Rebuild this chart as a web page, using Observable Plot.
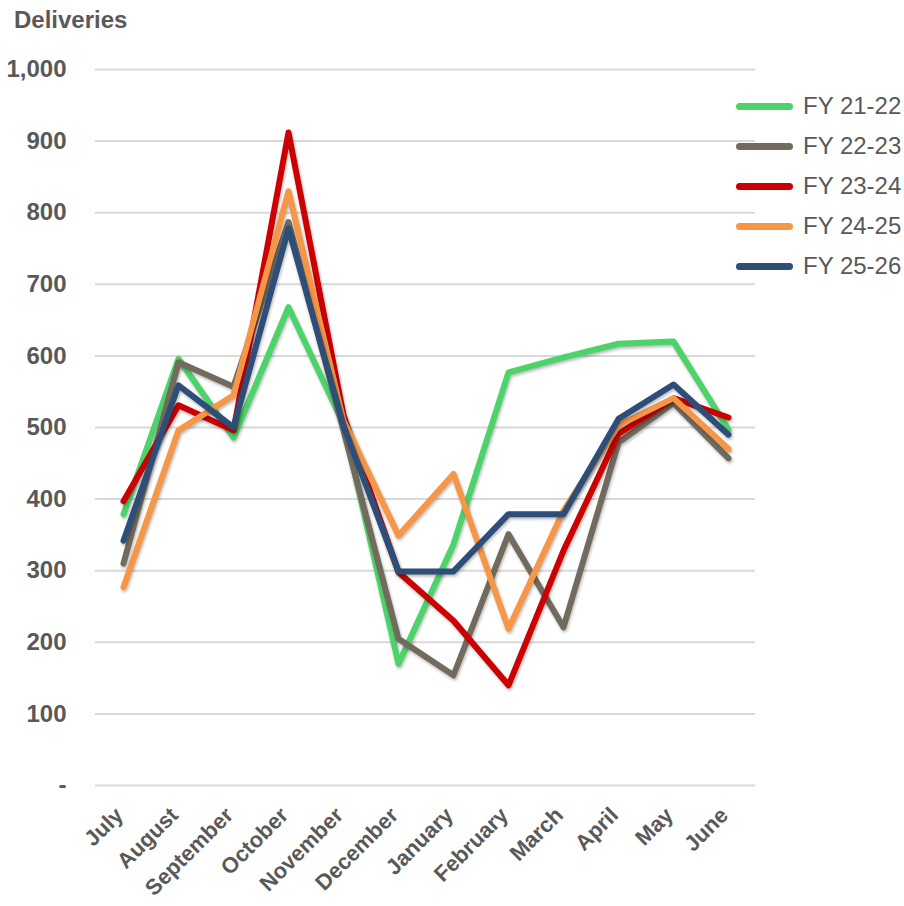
<!DOCTYPE html>
<html>
<head>
<meta charset="utf-8">
<script src="https://cdn.jsdelivr.net/npm/d3@7"></script>
<script src="https://cdn.jsdelivr.net/npm/@observablehq/plot@0.6"></script>
<style>
  html, body { margin: 0; padding: 0; background: #fff; overflow: hidden; }
  #wrap { position: relative; width: 904px; height: 906px; overflow: hidden; font-family: "Liberation Sans", Arial, sans-serif; }
  #title { position: absolute; left: 14px; top: 6px; font-weight: bold; font-size: 24px; color: #595959; }
  #legend { position: absolute; left: 736px; top: 0; }
  .lg { position: absolute; left: 0; width: 190px; height: 30px; }
  .lg .sw { position: absolute; left: 0; top: 12px; width: 57px; height: 7px; border-radius: 4px; }
  .lg .tx { position: absolute; left: 67px; top: 1px; font-size: 24px; color: #595959; white-space: nowrap; }
  .series path { filter: drop-shadow(1px 2px 1.5px rgba(0,0,0,0.28)); }
</style>
</head>
<body>
<div id="wrap">
  <div id="chart"></div>
  <div id="title">Deliveries</div>
  <div id="legend"></div>
</div>
<script>
const months = ["July","August","September","October","November","December","January","February","March","April","May","June"];
const seriesNames = ["FY 21-22","FY 22-23","FY 23-24","FY 24-25","FY 25-26"];
const seriesColors = ["#4cd46a","#736a5e","#cc0000","#f79646","#2c4e79"];
const fy2122 = [379, 596, 486, 668, 505, 170, 337, 577, 598, 617, 620, 497];
const fy2223 = [310, 591, 557, 787, 496, 205, 154, 351, 221, 479, 534, 457];
const fy2324 = [397, 531, 496, 912, 517, 298, 230, 140, 328, 491, 541, 514];
const fy2425 = [277, 496, 545, 830, 510, 349, 435, 219, 384, 503, 541, 470];
const fy2526 = [342, 559, 500, 778, 503, 299, 299, 379, 379, 512, 560, 490];
const yTicks = [0, 100, 200, 300, 400, 500, 600, 700, 800, 900, 1000];

const allSeries = [fy2122, fy2223, fy2324, fy2425, fy2526];
const rows = [];
allSeries.forEach((vals, si) => {
  vals.forEach((v, i) => rows.push({series: seriesNames[si], month: months[i], value: v}));
});

const fmt = d => d === 0 ? "-" : d3.format(",")(d);

const chart = Plot.plot({
  width: 904,
  height: 906,
  marginLeft: 95,
  marginRight: 149,
  marginTop: 69,
  marginBottom: 121,
  style: {fontFamily: "'Liberation Sans', Arial, sans-serif", color: "#595959", background: "#fff", overflow: "hidden"},
  x: {type: "point", domain: months, padding: 0.5},
  y: {domain: [0, 1000]},
  color: {domain: seriesNames, range: seriesColors},
  marks: [
    Plot.gridY(yTicks, {stroke: "#d9d9d9", strokeOpacity: 1, strokeWidth: 2}),
    Plot.axisY(yTicks, {tickSize: 0, tickPadding: 29, tickFormat: fmt, fontSize: 24, fontWeight: "bold", fill: "#595959", label: null}),
    Plot.axisX({tickSize: 0, tickPadding: 26, dx: -4, tickRotate: -45, fontSize: 22, fontWeight: "bold", fill: "#595959", label: null}),
    Plot.line(rows, {x: "month", y: "value", z: "series", stroke: "series", strokeWidth: 6,
      strokeLinejoin: "round", strokeLinecap: "round", className: "series"})
  ]
});
document.getElementById("chart").appendChild(chart);

const legend = document.getElementById("legend");
seriesNames.forEach((name, i) => {
  const row = document.createElement("div");
  row.className = "lg";
  row.style.top = (91 + i * 40) + "px";
  row.innerHTML = `<div class="sw" style="background:${seriesColors[i]}"></div><div class="tx">${name}</div>`;
  legend.appendChild(row);
});
</script>
</body>
</html>
